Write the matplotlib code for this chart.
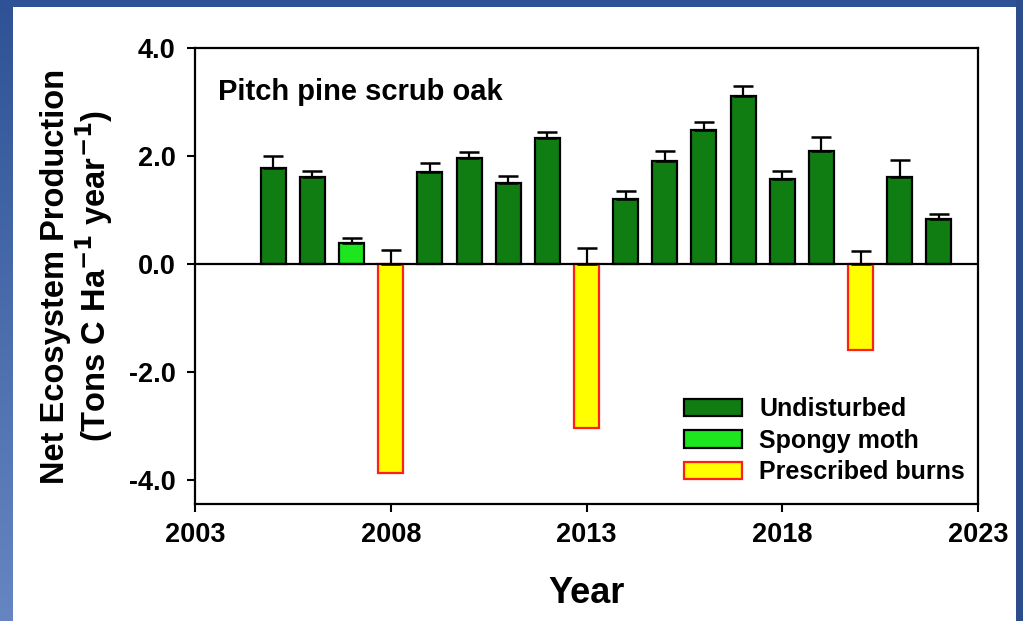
import numpy as np
import matplotlib.pyplot as plt
import matplotlib.patches as patches

plt.rcParams['font.family'] = ['Liberation Sans', 'DejaVu Sans']
plt.rcParams['font.weight'] = 'bold'
plt.rcParams['axes.unicode_minus'] = False

# net ecosystem production per year, tons C / ha / yr
years = [2005, 2006, 2007, 2008, 2009, 2010, 2011, 2012, 2013, 2014,
         2015, 2016, 2017, 2018, 2019, 2020, 2021, 2022]
nep = [1.77, 1.62, 0.40, -3.87, 1.70, 1.96, 1.51, 2.33, -3.03, 1.20,
       1.91, 2.49, 3.12, 1.57, 2.10, -1.59, 1.62, 0.83]
err = [0.24, 0.11, 0.08, 0.27, 0.17, 0.11, 0.12, 0.12, 0.30, 0.16,
       0.19, 0.14, 0.17, 0.16, 0.26, 0.25, 0.30, 0.10]
condition = ['u', 'u', 'm', 'b', 'u', 'u', 'u', 'u', 'b', 'u',
             'u', 'u', 'u', 'u', 'u', 'b', 'u', 'u']

labels = {'u': 'Undisturbed', 'm': 'Spongy moth', 'b': 'Prescribed burns'}
faces = {'u': '#0f7d12', 'm': '#1ee61e', 'b': '#ffff00'}
edges = {'u': 'black', 'm': 'black', 'b': '#ff2010'}

fig = plt.figure(figsize=(10.23, 6.21), dpi=100)

# blue slide background with a white card on top
bg = fig.add_axes([0, 0, 1, 1], zorder=-10)
grad = np.linspace(0, 1, 256).reshape(-1, 1)
top = np.array([0x2e, 0x52, 0x95]) / 255
bot = np.array([0x66, 0x86, 0xc2]) / 255
img = top + (bot - top) * grad[..., None]
bg.imshow(img, aspect='auto', extent=[0, 1, 0, 1], origin='upper')
# darker strip down the right edge
bg.add_patch(patches.Rectangle((1016 / 1023, 0), 7 / 1023, 1,
                               facecolor='#2c4c8c', edgecolor='none'))
bg.add_patch(patches.Rectangle((13 / 1023, 0), (1016 - 13) / 1023, 1 - 7 / 621,
                               facecolor='white', edgecolor='none'))
bg.set_xlim(0, 1)
bg.set_ylim(0, 1)
bg.axis('off')

ax = fig.add_axes([195 / 1023, 1 - 504 / 621, (978 - 195) / 1023, (504 - 48) / 621])
ax.set_facecolor('none')

seen = set()
for yr, v, e, c in zip(years, nep, err, condition):
    lab = labels[c] if c not in seen else None
    seen.add(c)
    ax.bar(yr, v, width=0.64, color=faces[c], edgecolor=edges[c],
           linewidth=1.6, label=lab, zorder=2)
    base = v if v > 0 else 0
    ax.errorbar(yr, base, yerr=[[0], [e]], fmt='none', ecolor='black',
                elinewidth=1.6, capsize=7, capthick=1.8, zorder=3)

ax.axhline(0, color='black', linewidth=1.6, zorder=4)

ax.set_xlim(2003, 2023)
ax.set_ylim(-4.44, 4.0)
ax.set_xticks([2003, 2008, 2013, 2018, 2023])
ax.set_yticks([-4, -2, 0, 2, 4])
ax.set_yticklabels(['-4.0', '-2.0', '0.0', '2.0', '4.0'])
ax.tick_params(labelsize=19.5, width=1.5, length=6, pad=8)
ax.tick_params(axis='x', pad=7)
for s in ax.spines.values():
    s.set_linewidth(1.6)

ax.text(0.03, 0.935, 'Pitch pine scrub oak', transform=ax.transAxes,
        fontsize=21, fontweight='bold', va='top')

ax.set_xlabel('Year', fontsize=26, fontweight='bold', labelpad=20)
ax.set_ylabel('Net Ecosystem Production\n(Tons C Ha$^{\\mathbf{-1}}$ year$^{\\mathbf{-1}}$)',
              fontsize=23.5, fontweight='bold', labelpad=10, linespacing=1.05)

ax.legend(loc='lower right', bbox_to_anchor=(1.012, -0.006), frameon=False,
          fontsize=18, handlelength=2.3, handleheight=0.7,
          handletextpad=0.7, labelspacing=0.3)

fig.savefig('out.png', dpi=100)
